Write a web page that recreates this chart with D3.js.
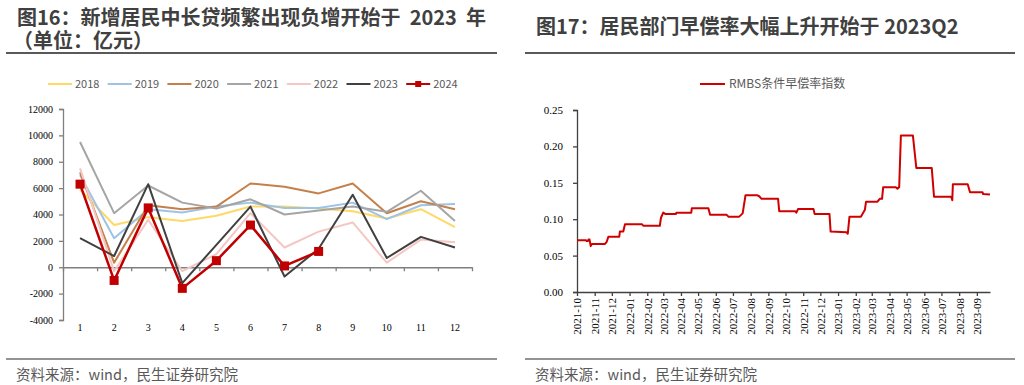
<!DOCTYPE html>
<html>
<head>
<meta charset="utf-8">
<script src="https://cdn.jsdelivr.net/npm/d3@7"></script>
<style>
  body { margin: 0; background: #fff; }
  svg { display: block; }
  .cjk { font-family: "Noto Sans CJK SC", "Noto Sans", sans-serif; }
  .serif { font-family: "Liberation Serif", "DejaVu Serif", serif; }
</style>
</head>
<body>
<svg id="chart" width="1024" height="385"></svg>
<script>
// ---- left chart data: new mid/long-term household loans by month (100m yuan)
let months = [1, 2, 3, 4, 5, 6, 7, 8, 9, 10, 11, 12];
let yearNames = ['2018', '2019', '2020', '2021', '2022', '2023', '2024'];
let loans2018 = [5900, 3200, 3800, 3500, 3900, 4600, 4600, 4450, 4250, 3700, 4400, 3050];
let loans2019 = [7000, 2200, 4400, 4150, 4600, 4900, 4500, 4500, 4900, 3650, 4700, 4800];
let loans2020 = [7200, 350, 4700, 4400, 4600, 6350, 6100, 5600, 6350, 4100, 5000, 4400];
let loans2021 = [9500, 4100, 6200, 4900, 4450, 5150, 4000, 4300, 4600, 4200, 5800, 3500];
let loans2022 = [7500, -300, 3600, -300, 1000, 4100, 1500, 2700, 3400, 350, 2100, 1900];
let loans2023 = [2200, 850, 6300, -1200, 1700, 4600, -700, 1400, 5500, 700, 2300, 1500];
let loans2024 = [6300, -1000, 4500, -1600, 500, 3200, 100, 1200];
let leftTicks = [-4000, -2000, 0, 2000, 4000, 6000, 8000, 10000, 12000];

// ---- right chart data: RMBS conditional prepayment rate index (breakpoints)
let rmbsDates = [
  '2021-10-01', '2021-10-17', '2021-10-18', '2021-10-20', '2021-10-21', '2021-10-23', '2021-10-25', '2021-10-27',
  '2021-11-19', '2021-11-22', '2021-11-25', '2021-12-14', '2021-12-15', '2021-12-21', '2021-12-24',
  '2022-01-23', '2022-01-25', '2022-02-23', '2022-02-25', '2022-03-01', '2022-03-05', '2022-03-23', '2022-03-24',
  '2022-04-19', '2022-04-20', '2022-05-19', '2022-05-22', '2022-06-20', '2022-06-23', '2022-07-12', '2022-07-18',
  '2022-07-23', '2022-08-12', '2022-08-16', '2022-08-20', '2022-09-18', '2022-09-20', '2022-10-18', '2022-10-20',
  '2022-10-23', '2022-11-19', '2022-11-21', '2022-12-17', '2022-12-19', '2023-01-16', '2023-01-18', '2023-01-21',
  '2023-02-10', '2023-02-17', '2023-02-19', '2023-03-11', '2023-03-15', '2023-03-19', '2023-03-21', '2023-04-12',
  '2023-04-15', '2023-04-18', '2023-04-21', '2023-05-12', '2023-05-18', '2023-06-14', '2023-06-18', '2023-07-18',
  '2023-07-20', '2023-07-21', '2023-08-16', '2023-08-20', '2023-09-11', '2023-09-12', '2023-09-24'
];
let rmbsValues = [
  0.071, 0.071, 0.070, 0.070, 0.072, 0.072, 0.063, 0.066,
  0.066, 0.069, 0.076, 0.076, 0.083, 0.083, 0.093,
  0.093, 0.091, 0.091, 0.102, 0.109, 0.107, 0.107, 0.109,
  0.109, 0.115, 0.115, 0.106, 0.106, 0.1035, 0.1035, 0.108,
  0.133, 0.133, 0.1315, 0.128, 0.128, 0.111, 0.111, 0.109,
  0.114, 0.114, 0.107, 0.107, 0.083, 0.082, 0.080, 0.1035,
  0.1035, 0.113, 0.124, 0.124, 0.128, 0.128, 0.144, 0.144,
  0.142, 0.144, 0.215, 0.215, 0.1705, 0.1705, 0.131, 0.131,
  0.126, 0.148, 0.148, 0.137, 0.137, 0.1345, 0.134
];
let rightTicks = [0, 0.05, 0.10, 0.15, 0.20, 0.25];

let svg = d3.select('#chart');

// ---------- titles, rules and source lines
function header(x0, x1, lines, ys) {
  lines.forEach(function(t, i) {
    svg.append('text').attr('class', 'cjk')
      .attr('x', t.x).attr('y', ys[i])
      .style('font-size', '20px').style('font-weight', 'bold').style('fill', '#404040')
      .style('white-space', 'pre')
      .text(t.text);
  });
  svg.append('line').attr('x1', x0).attr('x2', x1).attr('y1', 53).attr('y2', 53)
    .style('stroke', '#595959').style('stroke-width', 2);
  svg.append('line').attr('x1', x0).attr('x2', x1).attr('y1', 359).attr('y2', 359)
    .style('stroke', '#6f6f6f').style('stroke-width', 1.5);
  svg.append('text').attr('class', 'cjk')
    .attr('x', x0 + 10).attr('y', 380)
    .style('font-size', '14.5px').style('fill', '#595959')
    .text('资料来源：wind，民生证券研究院');
}
header(6, 497, [
  { x: 17, text: '图16：新增居民中长贷频繁出现负增开始于  2023  年' },
  { x: 13, text: '（单位：亿元）' }
], [25, 48]);
header(525, 1015, [{ x: 536, text: '图17：居民部门早偿率大幅上升开始于 2023Q2' }], [34]);

// ---------- left chart
let xBand = d3.scaleBand().domain(months).range([63, 472]);
let xEdge = d3.scaleLinear().domain([0, 12]).range([63, 472]);
let yLeft = d3.scaleLinear().domain([-4000, 12000]).range([320, 109]);

let yAxisLeft = svg.append('g')
  .attr('transform', 'translate(63,0)')
  .call(d3.axisLeft(yLeft).tickValues(leftTicks).tickSize(4).tickPadding(6).tickFormat(function(d) { return String(d); }));

let xAxisLeft = svg.append('g')
  .attr('transform', 'translate(0,' + yLeft(0) + ')')
  .call(d3.axisBottom(xEdge).tickValues(d3.range(0, 13)).tickSize(4).tickSizeOuter(0).tickFormat(''));

let xLabelsLeft = svg.append('g')
  .attr('transform', 'translate(0,324)')
  .call(d3.axisBottom(xBand).tickSize(0).tickPadding(0));
xLabelsLeft.select('.domain').remove();

[yAxisLeft, xAxisLeft].forEach(function(g) {
  g.selectAll('path, line').style('stroke', '#7f7f7f').style('stroke-width', 1.3);
});
[yAxisLeft, xLabelsLeft].forEach(function(g) {
  g.selectAll('text').attr('class', 'serif').style('font-size', '10px').style('fill', '#000');
});

let seriesList = [loans2018, loans2019, loans2020, loans2021, loans2022, loans2023, loans2024];
let colors = ['#FFD966', '#9DC3E6', '#C5804A', '#A5A5A5', '#F4C7C3', '#404040', '#C00000'];

let lineLeft = d3.line()
  .x(function(d, i) { return xBand(months[i]) + xBand.bandwidth() / 2; })
  .y(function(d) { return yLeft(d); });

seriesList.forEach(function(s, k) {
  svg.append('path')
    .datum(s)
    .attr('d', lineLeft)
    .style('fill', 'none')
    .style('stroke', colors[k])
    .style('stroke-width', k === 6 ? 2.5 : 2)
    .style('stroke-linejoin', 'round');
});

// red squares for 2024
svg.selectAll('.dot-2024')
  .data(loans2024)
  .enter()
  .append('rect')
  .attr('class', 'dot-2024')
  .attr('x', function(d, i) { return xBand(months[i]) + xBand.bandwidth() / 2 - 4.5; })
  .attr('y', function(d) { return yLeft(d) - 4.5; })
  .attr('width', 9)
  .attr('height', 9)
  .style('fill', '#C00000');

// legend
yearNames.forEach(function(name, k) {
  let lx = 48 + k * 59.7;
  svg.append('line').attr('x1', lx).attr('x2', lx + 24).attr('y1', 84).attr('y2', 84)
    .style('stroke', colors[k]).style('stroke-width', 2);
  if (k === 6) {
    svg.append('rect').attr('x', lx + 9).attr('y', 81).attr('width', 6).attr('height', 6).style('fill', colors[k]);
  }
  svg.append('text').attr('class', 'cjk')
    .attr('x', lx + 27).attr('y', 88)
    .style('font-size', '11px').style('fill', '#595959')
    .text(name);
});

// ---------- right chart
let parseDate = d3.timeParse('%Y-%m-%d');
let dates = rmbsDates.map(parseDate);
let xTime = d3.scaleTime().domain([new Date(2021, 9, 1), new Date(2023, 8, 24)]).range([577, 990]);
let yRight = d3.scaleLinear().domain([0, 0.25]).range([292, 110]);

let yAxisRight = svg.append('g')
  .attr('transform', 'translate(577,0)')
  .call(d3.axisLeft(yRight).tickValues(rightTicks).tickSize(4).tickPadding(10).tickFormat(d3.format('.2f')));

let xAxisRight = svg.append('g')
  .attr('transform', 'translate(0,292)')
  .call(d3.axisBottom(xTime).ticks(d3.timeMonth.every(1)).tickSize(4).tickSizeOuter(0).tickFormat(d3.timeFormat('%Y-%m')));

xAxisRight.selectAll('text')
  .attr('transform', 'rotate(-90)')
  .attr('x', -6)
  .attr('y', 0)
  .attr('dy', '0.35em')
  .style('text-anchor', 'end');

[yAxisRight, xAxisRight].forEach(function(g) {
  g.selectAll('path, line').style('stroke', '#404040').style('stroke-width', 1.3);
  g.selectAll('text').attr('class', 'serif').style('font-size', '11px').style('fill', '#000');
});

let lineRight = d3.line()
  .x(function(d, i) { return xTime(dates[i]); })
  .y(function(d) { return yRight(d); });

svg.append('path')
  .datum(rmbsValues)
  .attr('d', lineRight)
  .style('fill', 'none')
  .style('stroke', '#D00000')
  .style('stroke-width', 2)
  .style('stroke-linejoin', 'round');

// right legend
svg.append('line').attr('x1', 700).attr('x2', 725).attr('y1', 84).attr('y2', 84)
  .style('stroke', '#D00000').style('stroke-width', 2);
svg.append('text').attr('class', 'cjk')
  .attr('x', 729).attr('y', 88)
  .style('font-size', '12px').style('fill', '#595959')
  .text('RMBS条件早偿率指数');
</script>
</body>
</html>
